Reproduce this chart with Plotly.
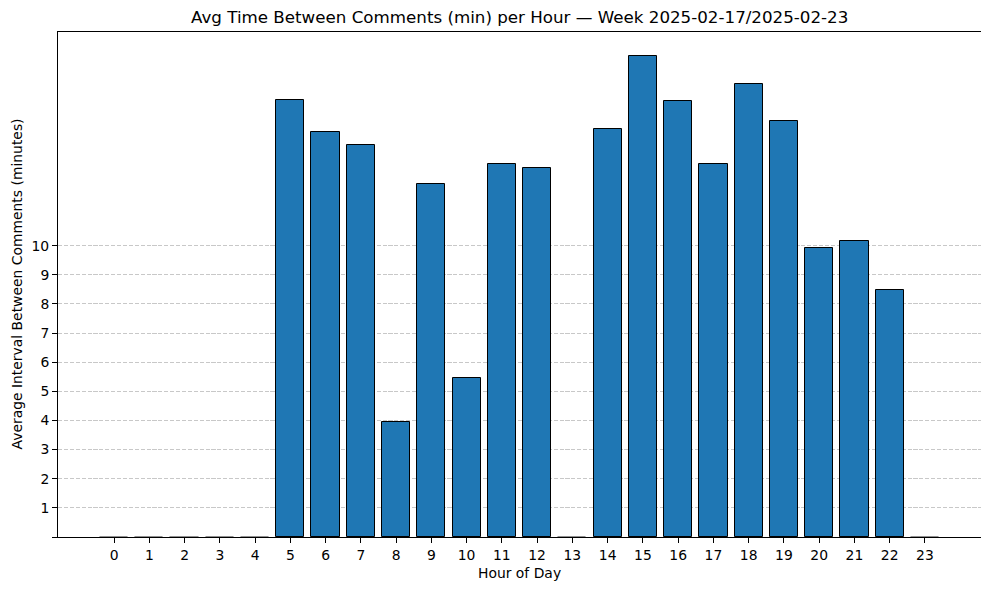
import plotly.graph_objects as go

hours = list(range(24))
avg_interval = [0, 0, 0, 0, 0, 15.0, 13.9, 13.46, 3.95, 12.12, 5.46, 12.8,
                12.68, 0, 14.02, 16.51, 14.98, 12.8, 15.55, 14.28, 9.92, 10.16, 8.48, 0]
ytick_vals = list(range(0, 11))
ytick_text = [""] + [str(v) for v in range(1, 11)]
title = "Avg Time Between Comments (min) per Hour \u2014 Week 2025-02-17/2025-02-23"
xlabel = "Hour of Day"
ylabel = "Average Interval Between Comments (minutes)"

FONT = "DejaVu Sans"
edge_colors = ["black" if v > 0 else "rgba(0,0,0,0.25)" for v in avg_interval]

fig = go.Figure()
fig.add_trace(go.Bar(
    x=hours, y=avg_interval, width=0.8,
    marker=dict(color="#1f77b4", line=dict(color=edge_colors, width=1)),
))

ymax = max(avg_interval) * 1.05

# page body has an 8px margin, so the figure is sized to 981x582
fig.update_layout(
    width=981, height=582,
    margin=dict(l=49.5, r=8.3, t=24.3, b=53, autoexpand=False),
    plot_bgcolor="white", paper_bgcolor="white",
    showlegend=False,
    font=dict(family=FONT, size=13.9, color="black"),
    bargap=0,
    xaxis=dict(
        range=[-1.59, 24.59], automargin=False,
        tickmode="array", tickvals=hours, ticktext=[str(h) for h in hours],
        showgrid=False, zeroline=False,
        showline=True, mirror=True, linecolor="black", linewidth=1,
        ticks="outside", ticklen=5, tickcolor="black", tickwidth=1,
        tickfont=dict(family=FONT, size=13.9),
    ),
    yaxis=dict(
        range=[0, ymax], automargin=False,
        tickmode="array", tickvals=ytick_vals, ticktext=ytick_text,
        showgrid=True, gridcolor="rgba(176,176,176,0.7)", griddash="4.1px,1.8px", gridwidth=1,
        zeroline=False,
        showline=True, mirror=True, linecolor="black", linewidth=1,
        ticks="outside", ticklen=5, tickcolor="black", tickwidth=1,
        tickfont=dict(family=FONT, size=13.9),
        layer="above traces",
    ),
    annotations=[
        dict(text=title, x=0.5, y=1, xref="paper", yref="paper",
             xanchor="center", yanchor="bottom", yshift=3, showarrow=False,
             font=dict(family=FONT, size=16.7, color="black")),
        dict(text=xlabel, x=0.5, y=0, xref="paper", yref="paper",
             xanchor="center", yanchor="top", yshift=-26, showarrow=False,
             font=dict(family=FONT, size=13.9, color="black")),
        dict(text=ylabel, x=0, y=0.5, xref="paper", yref="paper",
             xanchor="right", yanchor="middle", xshift=-32, textangle=-90,
             showarrow=False, font=dict(family=FONT, size=13.9, color="black")),
    ],
)

fig.write_html("out.html")
